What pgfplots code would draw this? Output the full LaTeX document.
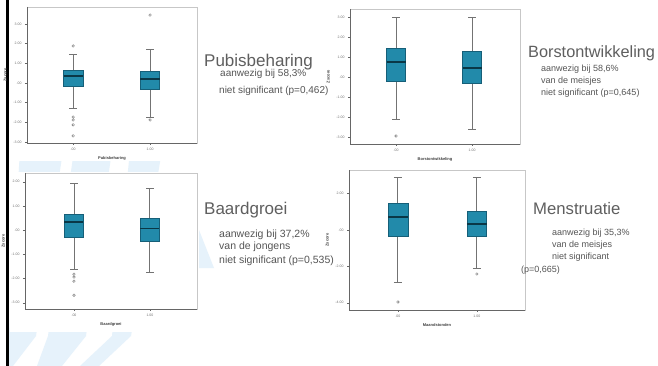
\documentclass[border=0pt]{standalone}
\usepackage{fontspec}
\setmainfont{Liberation Sans}
\usepackage{pgfplots}
\pgfplotsset{compat=1.18}
\usepgfplotslibrary{statistics}
\definecolor{boxblue}{RGB}{34,138,170}
\definecolor{boxedge}{RGB}{22,95,120}
\definecolor{medc}{RGB}{10,55,70}
\definecolor{whisk}{RGB}{115,115,115}
\definecolor{stripe}{RGB}{230,242,251}
\definecolor{txt}{RGB}{95,95,95}
\definecolor{subtxt}{RGB}{85,85,85}
\pgfplotsset{
  spsspanel/.style={
    scale only axis, anchor=north west,
    axis background/.style={fill=white},
    axis line style={draw=black!22, line width=0.5pt},
    xtick={1,2}, xticklabels={.00,1.00},
    tick style={draw=black!60, line width=0.4pt},
    tick align=outside, major tick length=2pt,
    xtick pos=bottom, ytick pos=left,
    ticklabel style={font=\fontsize{3.5}{4}\selectfont, text=black!55},
    xlabel style={font=\fontsize{4}{5}\selectfont\bfseries, text=black!75, yshift=1pt},
    ylabel style={font=\fontsize{4}{5}\selectfont\bfseries, text=black!75},
    ylabel={Zscore},
    after end axis/.code={\draw[black!60, line width=0.5pt] (rel axis cs:0,1) -- (rel axis cs:0,0) -- (rel axis cs:1,0);},
    boxplot/draw direction=y,
    boxplot/box extend=0.25,
    boxplot/whisker extend=0.1,
    boxplot/every box/.style={fill=boxblue, draw=boxedge, line width=0.5pt},
    boxplot/every median/.style={draw=medc, line width=1.3pt},
    boxplot/every whisker/.style={draw=whisk, line width=0.9pt},
  },
  outl/.style={mark=o, mark size=1.3pt, mark options={draw=black!55, line width=0.4pt}},
}
\begin{document}
\begin{tikzpicture}
\path[use as bounding box, fill=white] (0pt,0pt) rectangle (658pt,-366pt);
% background stripes
\fill[stripe] (20pt,-150pt) -- (63pt,-150pt) -- (36pt,-336pt) -- (13pt,-366pt) -- (9pt,-366pt) -- (9pt,-336pt) -- cycle;
\fill[stripe] (74pt,-150pt) -- (112pt,-150pt) -- (86pt,-336pt) -- (62pt,-366pt) -- (37pt,-366pt) -- (48pt,-336pt) -- cycle;
\fill[stripe] (130pt,-150pt) -- (162pt,-150pt) -- (131pt,-336pt) -- (99pt,-366pt) -- (80pt,-366pt) -- (112pt,-336pt) -- cycle;
\fill[stripe] (199pt,-230pt) -- (214pt,-268pt) -- (199pt,-268pt) -- cycle;
% screenshot areas (white)
\fill[white] (10pt,0pt) rectangle (199pt,-161pt);
\fill[white] (10pt,-172pt) rectangle (199pt,-332pt);
\draw[black, line width=3pt] (7pt,0pt) -- (7pt,-366pt);

% Panel 1: Pubisbeharing
\begin{axis}[spsspanel, at={(27pt,-7pt)}, width=170pt, height=136pt,
  xmin=0.40, xmax=2.61, ymin=-3.05, ymax=3.86,
  ytick={-3,-2,-1,0,1,2,3}, yticklabels={-3.00,-2.00,-1.00,.00,1.00,2.00,3.00},
  xlabel={Pubisbeharing}]
\addplot[outl, boxplot prepared={median=0.36, upper quartile=0.66, lower quartile=-0.15,
  upper whisker=1.47, lower whisker=-1.27, draw position=1}]
  coordinates {(0,1.88) (0,-1.73) (0,-1.88) (0,-2.13) (0,-2.69)};
\addplot[outl, boxplot prepared={median=0.20, upper quartile=0.61, lower quartile=-0.30,
  upper whisker=1.68, lower whisker=-1.73, draw position=2}]
  coordinates {(0,3.45) (0,-1.88)};
\end{axis}

% Panel 2: Borstontwikkeling
\begin{axis}[spsspanel, at={(350pt,-9pt)}, width=170pt, height=135pt,
  xmin=0.395, xmax=2.63, ymin=-3.35, ymax=3.4,
  ytick={-3,-2,-1,0,1,2,3}, yticklabels={-3.00,-2.00,-1.00,.00,1.00,2.00,3.00},
  xlabel={Borstontwikkeling}]
\addplot[outl, boxplot prepared={median=0.75, upper quartile=1.45, lower quartile=-0.20,
  upper whisker=3.0, lower whisker=-2.1, draw position=1}]
  coordinates {(0,-2.95)};
\addplot[outl, boxplot prepared={median=0.45, upper quartile=1.30, lower quartile=-0.30,
  upper whisker=3.0, lower whisker=-2.6, draw position=2}]
  coordinates {};
\end{axis}

% Panel 3: Baardgroei
\begin{axis}[spsspanel, at={(25pt,-173pt)}, width=172pt, height=136pt,
  xmin=0.355, xmax=2.62, ymin=-3.26, ymax=2.36,
  ytick={-3,-2,-1,0,1,2}, yticklabels={-3.00,-2.00,-1.00,.00,1.00,2.00},
  xlabel={Baardgroei}]
\addplot[outl, boxplot prepared={median=0.33, upper quartile=0.66, lower quartile=-0.29,
  upper whisker=1.94, lower whisker=-1.61, draw position=1}]
  coordinates {(0,-1.82) (0,-1.94) (0,-2.11) (0,-2.69)};
\addplot[outl, boxplot prepared={median=0.08, upper quartile=0.50, lower quartile=-0.45,
  upper whisker=1.74, lower whisker=-1.74, draw position=2}]
  coordinates {};
\end{axis}

% Panel 4: Maandstonden
\begin{axis}[spsspanel, at={(349pt,-170pt)}, width=176pt, height=140pt,
  xmin=0.38, xmax=2.61, ymin=-4.4, ymax=3.3,
  ytick={-4,-2,0,2}, yticklabels={-4.00,-2.00,.00,2.00},
  xlabel={Maandstonden}]
\addplot[outl, boxplot prepared={median=0.71, upper quartile=1.48, lower quartile=-0.33,
  upper whisker=2.91, lower whisker=-2.91, draw position=1}]
  coordinates {(0,-3.96)};
\addplot[outl, boxplot prepared={median=0.33, upper quartile=1.04, lower quartile=-0.33,
  upper whisker=2.91, lower whisker=-2.09, draw position=2}]
  coordinates {(0,-2.42)};
\end{axis}

% Annotations
\node[anchor=base west, inner sep=0pt, text=txt, font=\fontsize{17}{20}\selectfont] at (204pt,-67pt) {Pubisbeharing};
\node[anchor=base west, inner sep=0pt, text=subtxt, font=\fontsize{10}{12}\selectfont] at (220pt,-77pt) {aanwezig bij 58,3\%};
\node[anchor=base west, inner sep=0pt, text=subtxt, font=\fontsize{10}{12}\selectfont] at (219pt,-94pt) {niet significant (p=0,462)};

\node[anchor=base west, inner sep=0pt, text=txt, font=\fontsize{16.3}{20}\selectfont] at (528pt,-58pt) {Borstontwikkeling};
\node[anchor=base west, inner sep=0pt, text=subtxt, font=\fontsize{9}{11}\selectfont] at (541pt,-72pt) {aanwezig bij 58,6\%};
\node[anchor=base west, inner sep=0pt, text=subtxt, font=\fontsize{9}{11}\selectfont] at (541pt,-84pt) {van de meisjes};
\node[anchor=base west, inner sep=0pt, text=subtxt, font=\fontsize{9}{11}\selectfont] at (541pt,-96pt) {niet significant (p=0,645)};

\node[anchor=base west, inner sep=0pt, text=txt, font=\fontsize{17}{20}\selectfont] at (204pt,-214pt) {Baardgroei};
\node[anchor=base west, inner sep=0pt, text=subtxt, font=\fontsize{10.5}{12}\selectfont] at (219pt,-237pt) {aanwezig bij 37,2\%};
\node[anchor=base west, inner sep=0pt, text=subtxt, font=\fontsize{10.5}{12}\selectfont] at (219pt,-249pt) {van de jongens};
\node[anchor=base west, inner sep=0pt, text=subtxt, font=\fontsize{10.5}{12}\selectfont] at (219pt,-263pt) {niet significant (p=0,535)};

\node[anchor=base west, inner sep=0pt, text=txt, font=\fontsize{16.7}{20}\selectfont] at (533pt,-214pt) {Menstruatie};
\node[anchor=base west, inner sep=0pt, text=subtxt, font=\fontsize{9}{11}\selectfont] at (552pt,-235pt) {aanwezig bij 35,3\%};
\node[anchor=base west, inner sep=0pt, text=subtxt, font=\fontsize{9}{11}\selectfont] at (552pt,-247pt) {van de meisjes};
\node[anchor=base west, inner sep=0pt, text=subtxt, font=\fontsize{9}{11}\selectfont] at (552pt,-259pt) {niet significant};
\node[anchor=base west, inner sep=0pt, text=subtxt, font=\fontsize{9}{11}\selectfont] at (521pt,-272pt) {(p=0,665)};
\end{tikzpicture}
\end{document}
